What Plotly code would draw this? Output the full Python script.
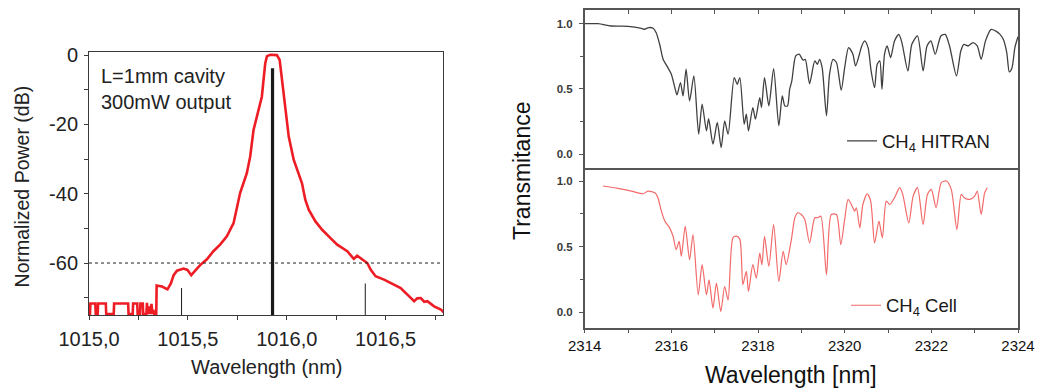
import plotly.graph_objects as go

# ---------------- Left panel: laser spectrum ----------------
spec_nm = [1015.000, 1015.005, 1015.007, 1015.032, 1015.034, 1015.044, 1015.046, 1015.085, 1015.087,
           1015.125, 1015.127, 1015.198, 1015.200, 1015.221, 1015.223, 1015.244, 1015.246, 1015.258,
           1015.260, 1015.272, 1015.274, 1015.290, 1015.293, 1015.297, 1015.305, 1015.310, 1015.316,
           1015.321, 1015.325, 1015.330, 1015.340, 1015.342, 1015.369, 1015.397, 1015.414, 1015.428,
           1015.445, 1015.478, 1015.498, 1015.517, 1015.537, 1015.562, 1015.595, 1015.629, 1015.663,
           1015.697, 1015.731, 1015.748, 1015.764, 1015.798, 1015.815, 1015.832, 1015.857, 1015.874,
           1015.891, 1015.900, 1015.917, 1015.950, 1015.964, 1015.976, 1015.993, 1016.010, 1016.035,
           1016.060, 1016.077, 1016.094, 1016.111, 1016.145, 1016.179, 1016.221, 1016.255, 1016.306,
           1016.339, 1016.356, 1016.382, 1016.407, 1016.424, 1016.449, 1016.492, 1016.542, 1016.576,
           1016.610, 1016.644, 1016.660, 1016.678, 1016.695, 1016.711, 1016.745, 1016.779, 1016.796]
spec_db = [-74.7, -74.7, -71.7, -71.7, -74.7, -74.7, -71.7, -71.7, -74.7,
           -74.7, -71.7, -71.7, -74.7, -74.7, -71.7, -71.7, -74.7, -74.7,
           -71.7, -71.7, -74.7, -74.7, -71.5, -74.7, -72.5, -74.7, -71.8,
           -74.7, -73.5, -74.7, -74.7, -66.5, -66.8, -67.6, -65.9, -63.5,
           -62.2, -61.6, -62.0, -63.5, -62.2, -60.6, -59.0, -56.6, -54.7,
           -52.3, -48.5, -43.7, -39.8, -34.1, -29.3, -21.6, -15.8, -12.0,
           -2.4, -0.3, 0.1, 0.0, -1.4, -7.2, -16.8, -23.5, -30.2,
           -34.1, -37.0, -41.8, -44.6, -48.0, -50.4, -52.8, -54.7, -56.6,
           -58.8, -57.9, -59.0, -60.0, -61.9, -63.8, -64.8, -66.2, -67.2,
           -69.1, -71.0, -70.2, -70.1, -71.2, -71.0, -72.5, -73.4, -74.4]

main_line_nm = [1015.928]
main_line_top = [-3.8]
side_lines_nm = [1015.468, 1016.397]
side_lines_top = [-67.2, -65.9]
floor_db = -75.0
threshold_db = -60

left_xticks = [1015.0, 1015.5, 1016.0, 1016.5]
left_xticktext = ["1015,0", "1015,5", "1016,0", "1016,5"]
left_yticks = [0, -20, -40, -60]
left_yticktext = ["0", "-20", "-40", "-60"]

# ---------------- Right panel: CH4 transmittance ----------------
hitran_nm = [2314.00, 2314.31, 2314.61, 2315.00, 2315.31, 2315.38, 2315.48, 2315.58, 2315.65, 2315.73,
             2315.81, 2315.92, 2316.00, 2316.08, 2316.13, 2316.21, 2316.27, 2316.34, 2316.42, 2316.52,
             2316.63, 2316.71, 2316.81, 2316.86, 2316.96, 2317.06, 2317.15, 2317.23, 2317.31, 2317.45,
             2317.52, 2317.58, 2317.68, 2317.73, 2317.78, 2317.88, 2317.94, 2318.04, 2318.08, 2318.15,
             2318.25, 2318.36, 2318.48, 2318.56, 2318.62, 2318.68, 2318.73, 2318.78, 2318.87, 2318.95,
             2319.04, 2319.09, 2319.19, 2319.31, 2319.37, 2319.42, 2319.48, 2319.58, 2319.65, 2319.73,
             2319.81, 2319.92, 2320.00, 2320.09, 2320.19, 2320.25, 2320.35, 2320.38, 2320.46, 2320.54,
             2320.61, 2320.69, 2320.75, 2320.81, 2320.86, 2320.92, 2320.98, 2321.06, 2321.15, 2321.25,
             2321.32, 2321.46, 2321.55, 2321.68, 2321.81, 2321.90, 2321.99, 2322.09, 2322.22, 2322.32,
             2322.42, 2322.58, 2322.68, 2322.75, 2322.85, 2322.96, 2323.06, 2323.15, 2323.25, 2323.38,
             2323.48, 2323.58, 2323.66, 2323.74, 2323.80, 2323.86, 2323.93, 2324.00]
hitran_t = [1.000, 1.000, 0.982, 0.980, 0.964, 0.957, 0.970, 0.965, 0.931, 0.842,
            0.727, 0.663, 0.612, 0.510, 0.454, 0.549, 0.447, 0.651, 0.408, 0.600,
            0.153, 0.383, 0.179, 0.272, 0.077, 0.243, 0.050, 0.255, 0.153, 0.587,
            0.536, 0.587, 0.230, 0.306, 0.179, 0.357, 0.268, 0.434, 0.357, 0.587,
            0.370, 0.656, 0.217, 0.447, 0.370, 0.370, 0.497, 0.562, 0.753, 0.766,
            0.720, 0.727, 0.541, 0.714, 0.689, 0.727, 0.663, 0.294, 0.612, 0.727,
            0.702, 0.490, 0.663, 0.816, 0.766, 0.676, 0.778, 0.816, 0.868, 0.816,
            0.638, 0.510, 0.689, 0.714, 0.497, 0.766, 0.829, 0.740, 0.868, 0.918,
            0.855, 0.638, 0.842, 0.906, 0.638, 0.829, 0.868, 0.766, 0.906, 0.918,
            0.829, 0.600, 0.791, 0.842, 0.829, 0.855, 0.829, 0.727, 0.868, 0.956,
            0.945, 0.920, 0.880, 0.780, 0.630, 0.660, 0.820, 0.900]

cell_nm = [2314.42, 2314.77, 2315.08, 2315.35, 2315.46, 2315.62, 2315.69, 2315.77, 2315.85, 2315.96,
           2316.04, 2316.11, 2316.18, 2316.23, 2316.32, 2316.42, 2316.50, 2316.62, 2316.71, 2316.81,
           2316.87, 2316.96, 2317.04, 2317.14, 2317.23, 2317.31, 2317.42, 2317.50, 2317.58, 2317.65,
           2317.73, 2317.78, 2317.88, 2317.96, 2318.04, 2318.09, 2318.15, 2318.25, 2318.36, 2318.48,
           2318.58, 2318.65, 2318.77, 2318.85, 2318.92, 2319.00, 2319.08, 2319.19, 2319.31, 2319.38,
           2319.45, 2319.58, 2319.69, 2319.81, 2319.91, 2320.00, 2320.08, 2320.19, 2320.23, 2320.27,
           2320.35, 2320.42, 2320.52, 2320.60, 2320.69, 2320.79, 2320.87, 2320.96, 2321.04, 2321.15,
           2321.27, 2321.34, 2321.48, 2321.58, 2321.68, 2321.81, 2321.91, 2322.00, 2322.11, 2322.23,
           2322.35, 2322.46, 2322.59, 2322.69, 2322.76, 2322.89, 2323.00, 2323.06, 2323.15, 2323.23,
           2323.29]
cell_t = [0.962, 0.944, 0.923, 0.903, 0.923, 0.910, 0.873, 0.770, 0.694, 0.643,
          0.579, 0.477, 0.540, 0.426, 0.655, 0.400, 0.592, 0.132, 0.362, 0.132,
          0.247, 0.031, 0.222, 0.005, 0.196, 0.094, 0.567, 0.580, 0.557, 0.209,
          0.311, 0.158, 0.362, 0.260, 0.450, 0.362, 0.579, 0.349, 0.668, 0.234,
          0.464, 0.362, 0.554, 0.720, 0.758, 0.745, 0.707, 0.528, 0.720, 0.720,
          0.732, 0.286, 0.745, 0.745, 0.515, 0.707, 0.860, 0.796, 0.770, 0.796,
          0.643, 0.821, 0.903, 0.847, 0.528, 0.694, 0.567, 0.847, 0.821, 0.873,
          0.949, 0.898, 0.681, 0.885, 0.949, 0.668, 0.898, 0.936, 0.796, 0.988,
          1.000, 0.936, 0.630, 0.898, 0.873, 0.860, 0.885, 0.923, 0.745, 0.910,
          0.949]

right_yticks = [0.0, 0.5, 1.0]
right_yticktext = ["0.0", "0.5", "1.0"]

FONT = "Liberation Sans, Arial, sans-serif"
W, H = 1038, 389

def fx(px):
    return px / W

def fy(py):
    return 1 - py / H

fig = go.Figure()

# left traces
fig.add_trace(go.Scatter(x=spec_nm, y=spec_db, mode="lines",
                         line=dict(color="#ee1c24", width=2.6), showlegend=False,
                         xaxis="x", yaxis="y"))
vx, vy = [], []
for xv, tv in zip(main_line_nm, main_line_top):
    vx += [xv, xv, None]
    vy += [floor_db, tv, None]
fig.add_trace(go.Scatter(x=vx, y=vy, mode="lines", line=dict(color="#1a1a1a", width=3.2),
                         showlegend=False, xaxis="x", yaxis="y"))
sx, sy = [], []
for xv, tv in zip(side_lines_nm, side_lines_top):
    sx += [xv, xv, None]
    sy += [floor_db, tv, None]
fig.add_trace(go.Scatter(x=sx, y=sy, mode="lines", line=dict(color="#1a1a1a", width=1),
                         showlegend=False, xaxis="x", yaxis="y"))

# right traces
fig.add_trace(go.Scatter(x=hitran_nm, y=hitran_t, mode="lines",
                         line=dict(color="#404040", width=1.3, shape="spline", smoothing=0.7),
                         name="CH<sub>4</sub> HITRAN", legend="legend", xaxis="x3", yaxis="y3"))
fig.add_trace(go.Scatter(x=cell_nm, y=cell_t, mode="lines",
                         line=dict(color="#f26a6a", width=1.2, shape="spline", smoothing=0.7),
                         name="CH<sub>4</sub> Cell", legend="legend2", xaxis="x4", yaxis="y4"))

LX = [fx(89), fx(443)]
LY = [fy(315), fy(52)]
RX = [fx(584.7), fx(1018)]
RY_TOP = [fy(167.5), fy(9.7)]
RY_BOT = [fy(327.7), fy(167.5)]
x_range_left = [1015.0, 1016.79]
y_range_left = [-75, 0.9]

axline = "#3a3a3a"
LFS = 20

fig.update_layout(
    width=W, height=H, autosize=False,
    margin=dict(l=0, r=0, t=0, b=0, autoexpand=False),
    paper_bgcolor="white", plot_bgcolor="white",
    font=dict(family=FONT, color="#222"),
    xaxis=dict(domain=LX, range=x_range_left, anchor="y", tickvals=left_xticks, ticktext=left_xticktext,
               ticks="outside", ticklen=4, tickcolor=axline, showline=True, linecolor=axline, linewidth=1,
               mirror=True, showgrid=False, zeroline=False, tickfont=dict(size=LFS, color="#222"),
               ticklabelstandoff=2, automargin=False,
               minor=dict(dtick=0.25, tick0=1015.0, ticks="outside", ticklen=4, tickcolor=axline)),
    yaxis=dict(domain=LY, range=y_range_left, anchor="x", tickvals=left_yticks, ticktext=left_yticktext,
               ticks="outside", ticklen=4, tickcolor=axline, showline=True, linecolor=axline, linewidth=1,
               mirror=True, showgrid=False, zeroline=False, tickfont=dict(size=LFS, color="#222"),
               automargin=False, ticklabelstandoff=2,
               minor=dict(dtick=10, tick0=0, ticks="outside", ticklen=4, tickcolor=axline)),
    xaxis2=dict(overlaying="x", anchor="y", side="top", range=x_range_left, dtick=0.25, tick0=1015.0,
                ticks="inside", ticklen=4, tickcolor=axline, showticklabels=False, showline=False,
                showgrid=False, zeroline=False, automargin=False),
    yaxis2=dict(overlaying="y", anchor="x", side="right", range=y_range_left, dtick=10, tick0=0,
                ticks="inside", ticklen=4, tickcolor=axline, showticklabels=False, showline=False,
                showgrid=False, zeroline=False, automargin=False),
    xaxis3=dict(domain=RX, range=[2314, 2324], anchor="y3", side="top", dtick=1, ticks="inside",
                ticklen=5, tickcolor="#555", showticklabels=False, showline=True, linecolor="#555",
                linewidth=1.5, mirror=True, showgrid=False, zeroline=False, automargin=False),
    yaxis3=dict(domain=RY_TOP, range=[-0.102, 1.107], anchor="x3", tickvals=right_yticks,
                ticktext=right_yticktext, ticks="outside", ticklen=4, tickcolor="#555", showline=True,
                linecolor="#555", linewidth=1.5, mirror=True, showgrid=False, zeroline=False,
                tickfont=dict(size=11.5, color="#3a3a3a", weight="bold"), ticklabelstandoff=4,
                automargin=False,
                minor=dict(dtick=0.25, tick0=0, ticks="outside", ticklen=3, tickcolor="#555")),
    xaxis4=dict(domain=RX, range=[2314, 2324], anchor="y4", side="bottom", dtick=2, tick0=2314,
                tickformat="d", ticks="outside", ticklen=4, tickcolor="#555", showline=True,
                linecolor="#555", linewidth=1.5, mirror=False, showgrid=False, zeroline=False,
                tickfont=dict(size=15, color="#111"), ticklabelstandoff=0, automargin=False,
                minor=dict(dtick=1, ticks="outside", ticklen=4, tickcolor="#555")),
    yaxis4=dict(domain=RY_BOT, range=[-0.118, 1.103], anchor="x4", tickvals=right_yticks,
                ticktext=right_yticktext, ticks="outside", ticklen=4, tickcolor="#555", showline=True,
                linecolor="#555", linewidth=1.5, mirror=True, showgrid=False, zeroline=False,
                tickfont=dict(size=11.5, color="#3a3a3a", weight="bold"), ticklabelstandoff=4,
                automargin=False,
                minor=dict(dtick=0.25, tick0=0, ticks="outside", ticklen=3, tickcolor="#555")),
    legend=dict(x=fx(842), y=fy(141.3), xanchor="left", yanchor="middle", bgcolor="rgba(0,0,0,0)",
                font=dict(size=18.5, color="#1a1a1a", family=FONT), borderwidth=0),
    legend2=dict(x=fx(846), y=fy(305.7), xanchor="left", yanchor="middle", bgcolor="rgba(0,0,0,0)",
                 font=dict(size=18.5, color="#1a1a1a", family=FONT), borderwidth=0),
)

# dotted -60 dB reference line
fig.add_shape(type="line", xref="x domain", yref="y", x0=0, x1=1, y0=threshold_db, y1=threshold_db,
              line=dict(color="#222", width=1, dash="dot"))

annos = [
    dict(text="L=1mm cavity<br>300mW output", x=fx(99), y=fy(88.7), xanchor="left", yanchor="middle",
         align="left", font=dict(size=LFS, color="#222")),
    dict(text="Normalized Power (dB)", x=fx(21.7), y=fy(186.7), textangle=-90, xanchor="center",
         yanchor="middle", font=dict(size=LFS - 0.5, color="#222")),
    dict(text="Wavelength (nm)", x=fx(266.7), y=fy(366.7), xanchor="center", yanchor="middle",
         font=dict(size=LFS, color="#222")),
    dict(text="Transmitance", x=fx(522), y=fy(171), textangle=-90, xanchor="center", yanchor="middle",
         font=dict(size=23, color="#111")),
    dict(text="Wavelength [nm]", x=fx(791), y=fy(375), xanchor="center", yanchor="middle",
         font=dict(size=23, color="#111")),
]
for a in annos:
    fig.add_annotation(xref="paper", yref="paper", showarrow=False, **a)

fig.write_html("out.html")
